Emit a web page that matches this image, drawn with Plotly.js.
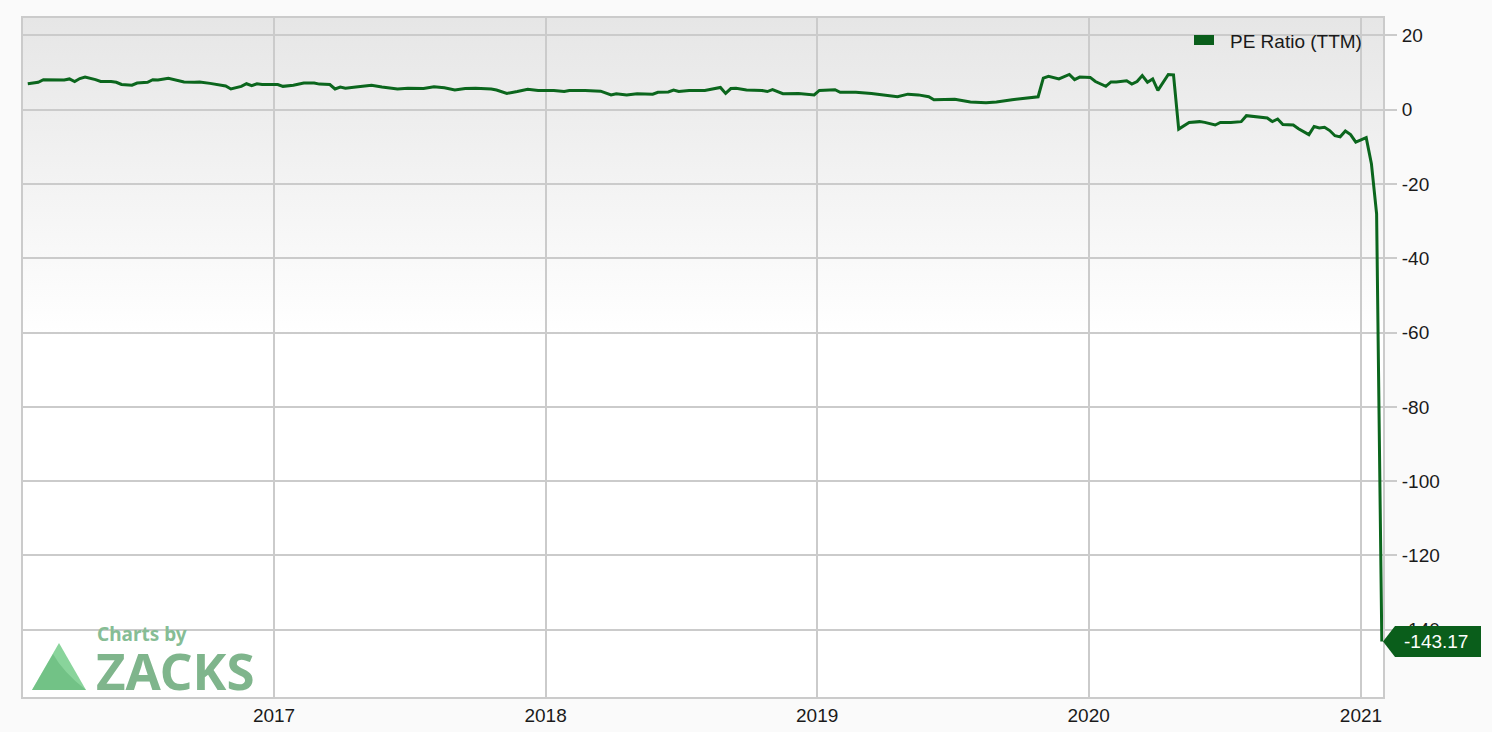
<!DOCTYPE html>
<html>
<head>
<meta charset="utf-8">
<script src="https://cdn.plot.ly/plotly-3.0.1.min.js"></script>
<style>
html,body{margin:0;padding:0;background:#fafafa;}
#chart{width:1492px;height:732px;}
</style>
</head>
<body>
<div id="chart"></div>
<script>
// ---- data ----
const seriesName = 'PE Ratio (TTM)';
const dates = [
'2016-02-05','2016-02-19','2016-02-26','2016-03-11','2016-03-25','2016-04-01','2016-04-08','2016-04-15','2016-04-22','2016-05-06',
'2016-05-13','2016-05-27','2016-06-03','2016-06-10','2016-06-24','2016-07-01','2016-07-15','2016-07-22','2016-07-29','2016-08-12',
'2016-08-26','2016-09-02','2016-09-16','2016-09-23','2016-10-07','2016-10-21','2016-10-28','2016-11-04','2016-11-18','2016-11-25',
'2016-12-02','2016-12-09','2016-12-16','2017-01-06','2017-01-13','2017-01-27','2017-02-10','2017-02-24','2017-03-03','2017-03-17',
'2017-03-24','2017-03-31','2017-04-07','2017-04-21','2017-04-28','2017-05-12','2017-05-26','2017-06-16','2017-06-30','2017-07-21',
'2017-08-04','2017-08-18','2017-09-01','2017-09-15','2017-09-29','2017-10-20','2017-10-27','2017-11-10','2017-11-24','2017-12-08',
'2017-12-22','2018-01-05','2018-01-12','2018-01-26','2018-02-02','2018-02-23','2018-03-16','2018-03-30','2018-04-06','2018-04-20',
'2018-05-04','2018-05-25','2018-06-01','2018-06-15','2018-06-22','2018-06-29','2018-07-13','2018-08-03','2018-08-17','2018-08-24',
'2018-08-31','2018-09-07','2018-09-14','2018-09-28','2018-10-19','2018-10-26','2018-11-02','2018-11-16','2018-12-07','2018-12-21',
'2018-12-28','2019-01-04','2019-01-25','2019-02-01','2019-02-22','2019-03-15','2019-04-05','2019-04-19','2019-05-03','2019-05-17',
'2019-05-31','2019-06-07','2019-07-05','2019-07-26','2019-08-16','2019-08-30','2019-09-20','2019-10-04','2019-10-18','2019-10-25',
'2019-11-01','2019-11-08','2019-11-22','2019-12-06','2019-12-13','2019-12-20','2020-01-03','2020-01-10','2020-01-24','2020-01-31',
'2020-02-07','2020-02-21','2020-02-28','2020-03-06','2020-03-13','2020-03-20','2020-03-27','2020-04-03','2020-04-17','2020-04-24',
'2020-05-01','2020-05-15','2020-05-29','2020-06-05','2020-06-19','2020-06-26','2020-07-10','2020-07-24','2020-07-31','2020-08-14',
'2020-08-28','2020-09-04','2020-09-11','2020-09-18','2020-10-02','2020-10-09','2020-10-23','2020-10-30','2020-11-06','2020-11-13',
'2020-11-20','2020-11-27','2020-12-04','2020-12-11','2020-12-18','2020-12-25','2021-01-08','2021-01-15','2021-01-22','2021-01-29'
];
const peRatio = [
7.0,7.4,8.1,8.1,8.0,8.3,7.6,8.4,8.8,8.1,
7.6,7.6,7.4,6.8,6.6,7.2,7.4,8.1,8.0,8.5,
7.8,7.5,7.4,7.5,7.1,6.5,6.4,5.6,6.3,7.0,
6.5,7.0,6.8,6.8,6.3,6.6,7.2,7.2,6.9,6.8,
5.6,6.1,5.8,6.1,6.3,6.6,6.1,5.6,5.8,5.7,
6.2,5.9,5.3,5.7,5.8,5.6,5.3,4.4,4.9,5.5,
5.2,5.3,5.2,4.9,5.2,5.2,5.0,4.0,4.3,4.0,
4.3,4.2,4.7,4.8,5.3,4.9,5.2,5.2,5.6,6.0,
4.4,5.7,5.8,5.3,5.2,4.9,5.4,4.3,4.4,4.0,
4.0,5.2,5.4,4.7,4.7,4.4,3.9,3.5,4.2,4.0,
3.5,2.7,2.8,2.1,1.9,2.1,2.7,3.0,3.3,3.5,
8.5,9.0,8.3,9.5,8.1,8.8,8.7,7.6,6.3,7.5,
7.5,7.8,6.9,7.6,9.2,7.4,8.3,5.2,9.5,9.4,
-5.2,-3.4,-3.2,-3.4,-4.1,-3.4,-3.4,-3.2,-1.6,-2.0,
-2.2,-3.2,-2.5,-4.0,-4.1,-5.1,-6.7,-4.5,-4.9,-4.7,
-5.6,-7.0,-7.3,-5.7,-6.7,-8.7,-7.5,-14.5,-28.0,-143.17
];
const xTickVals = ['2017-01-01','2018-01-01','2019-01-01','2020-01-01','2021-01-01'];
const xTickText = ['2017','2018','2019','2020','2021'];
const yTickVals = [20,0,-20,-40,-60,-80,-100,-120,-140];
const yTickText = ['20','0','-20','-40','-60','-80','-100','-120','-140'];
const lastLabel = '-143.17';

// ---- styling ----
const GREEN = '#0b661d';
const BOX = '#0a5e1b';
const GRID = '#cbcbcb';
const yRange = [-158.1, 24.7];
const xRange = ['2016-01-29 14:00', '2021-01-30 14:00'];
const lastVal = peRatio[peRatio.length - 1];
const lastYFrac = (lastVal - yRange[0]) / (yRange[1] - yRange[0]);

const grad = '<svg xmlns="http://www.w3.org/2000/svg" width="100" height="100" preserveAspectRatio="none">' +
  '<defs><linearGradient id="g" x1="0" y1="0" x2="0" y2="1">' +
  '<stop offset="0" stop-color="#e6e6e6"/><stop offset="0.47" stop-color="#ffffff"/><stop offset="1" stop-color="#ffffff"/>' +
  '</linearGradient></defs><rect width="100" height="100" fill="url(#g)"/></svg>';

const trace = {
  type: 'scatter', mode: 'lines', name: seriesName,
  x: dates, y: peRatio,
  line: {color: GREEN, width: 3},
  showlegend: false, hoverinfo: 'x+y'
};

const tickFont = {family: '"Liberation Sans", Arial, sans-serif', size: 19, color: '#1a1a1a'};

const layout = {
  width: 1492, height: 732,
  margin: {l: 23, r: 109, t: 18, b: 35, pad: 0},
  paper_bgcolor: '#fafafa',
  plot_bgcolor: '#ffffff',
  showlegend: false,
  xaxis: {
    type: 'date', range: xRange,
    tickvals: xTickVals, ticktext: xTickText,
    showgrid: true, gridcolor: GRID, gridwidth: 2,
    showline: true, linecolor: GRID, linewidth: 2, mirror: true,
    ticks: '', tickfont: tickFont, zeroline: false, fixedrange: true
  },
  yaxis: {
    range: yRange, side: 'right',
    tickvals: yTickVals, ticktext: yTickText,
    showgrid: true, gridcolor: GRID, gridwidth: 2,
    showline: true, linecolor: GRID, linewidth: 2, mirror: true,
    ticks: 'outside', ticklen: 12, tickwidth: 2, tickcolor: GRID,
    ticklabelstandoff: 1,
    tickfont: tickFont, zeroline: false, fixedrange: true
  },
  images: [{
    source: 'data:image/svg+xml;utf8,' + encodeURIComponent(grad),
    xref: 'paper', yref: 'paper', x: 0, y: 1, sizex: 1, sizey: 1,
    xanchor: 'left', yanchor: 'top', sizing: 'stretch', layer: 'below'
  }],
  shapes: [
    // last value pointer box
    {type: 'path', xref: 'paper', yref: 'paper', xsizemode: 'pixel', ysizemode: 'pixel',
     xanchor: 1, yanchor: lastYFrac,
     path: 'M 0 0 L 12 15.5 L 98 15.5 L 98 -15.5 L 12 -15.5 Z',
     fillcolor: BOX, line: {width: 0}, layer: 'above'},
    // legend swatch
    {type: 'rect', xref: 'paper', yref: 'paper', xsizemode: 'pixel', ysizemode: 'pixel',
     xanchor: 1, yanchor: 1, x0: -189, x1: -169, y0: -17, y1: -27,
     fillcolor: BOX, line: {width: 0}, layer: 'above'},
    // logo triangle
    {type: 'path', xref: 'paper', yref: 'paper', xsizemode: 'pixel', ysizemode: 'pixel',
     xanchor: 0, yanchor: 0,
     path: 'M 9 7 L 36 54 L 63 7 Z',
     fillcolor: '#7ccf90', line: {width: 0}, opacity: 0.9, layer: 'above'},
    {type: 'path', xref: 'paper', yref: 'paper', xsizemode: 'pixel', ysizemode: 'pixel',
     xanchor: 0, yanchor: 0,
     path: 'M 9 7 L 30 43 Q 40 25 63 7 Z',
     fillcolor: '#5fb274', line: {width: 0}, opacity: 0.55, layer: 'above'}
  ],
  annotations: [
    {text: lastLabel, xref: 'paper', yref: 'y', x: 1, y: lastVal,
     xanchor: 'center', yanchor: 'middle', xshift: 53, showarrow: false,
     font: {family: '"Liberation Sans", Arial, sans-serif', size: 19, color: '#ffffff'}},
    {text: seriesName, xref: 'paper', yref: 'paper', x: 1, y: 1,
     xanchor: 'right', yanchor: 'middle', xshift: -19, yshift: -23, showarrow: false,
     font: {family: '"Liberation Sans", Arial, sans-serif', size: 19, color: '#1a1a1a'}},
    {text: 'Charts by', xref: 'paper', yref: 'paper', x: 0, y: 0,
     xanchor: 'left', yanchor: 'middle', xshift: 72, yshift: 63, showarrow: false,
     font: {family: '"Noto Sans", "Open Sans", sans-serif', size: 19, color: '#86bd95', weight: 700}},
    {text: 'ZACKS', xref: 'paper', yref: 'paper', x: 0, y: 0,
     xanchor: 'left', yanchor: 'middle', xshift: 71, yshift: 27, showarrow: false,
     font: {family: '"Noto Sans", "Open Sans", sans-serif', size: 51, color: '#7fb58c', weight: 700}}
  ]
};

Plotly.newPlot('chart', [trace], layout, {displayModeBar: false, staticPlot: true});
</script>
</body>
</html>
